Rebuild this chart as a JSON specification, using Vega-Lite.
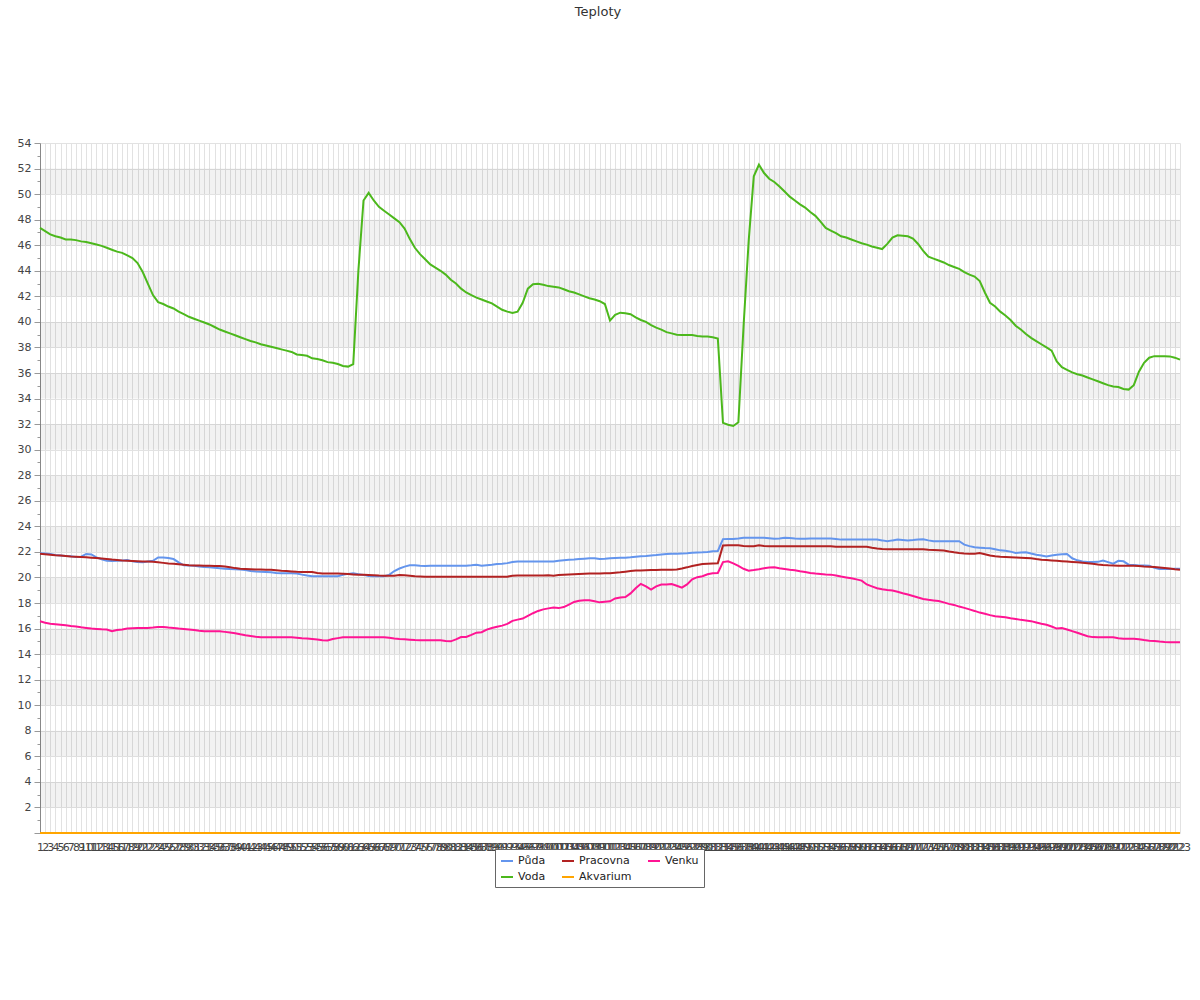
{
  "$schema": "https://vega.github.io/schema/vega-lite/v6.json",
  "autosize": {"type": "none"},
  "width": 1140,
  "height": 690,
  "padding": {"left": 40, "top": 143, "right": 20, "bottom": 167},
  "background": "white",
  "config": {"font": "DejaVu Sans", "view": {"stroke": null}},
  "title": {"text": "Teploty", "offset": 118, "fontSize": 13, "fontWeight": "normal", "color": "#333", "font": "DejaVu Sans", "dx": -12},
  "layer": [
    {
      "data": {"values": [
        {"a": 2, "b": 4}, {"a": 6, "b": 8}, {"a": 10, "b": 12}, {"a": 14, "b": 16}, {"a": 18, "b": 20},
        {"a": 22, "b": 24}, {"a": 26, "b": 28}, {"a": 30, "b": 32}, {"a": 34, "b": 36}, {"a": 38, "b": 40},
        {"a": 42, "b": 44}, {"a": 46, "b": 48}, {"a": 50, "b": 52}
      ]},
      "mark": {"type": "rect", "fill": "#000", "fillOpacity": 0.05},
      "encoding": {
        "y": {"field": "a", "type": "quantitative", "scale": {"domain": [0, 54], "nice": false},
          "axis": {
            "title": null,
            "values": [0,1,2,3,4,5,6,7,8,9,10,11,12,13,14,15,16,17,18,19,20,21,22,23,24,25,26,27,28,29,30,31,32,33,34,35,36,37,38,39,40,41,42,43,44,45,46,47,48,49,50,51,52,53,54],
            "labelExpr": "datum.value % 2 === 0 && datum.value > 0 ? datum.label : ''",
            "labelOverlap": false,
            "gridOpacity": {"condition": {"test": "datum.value % 2 !== 0", "value": 0}, "value": 1},
            "tickSize": {"condition": {"test": "datum.value % 2 !== 0", "value": 3}, "value": 6},
            "gridColor": "#e2e2e2",
            "domainColor": "#888",
            "tickColor": "#999",
            "labelFontSize": 11,
            "labelColor": "#444",
            "labelFont": "DejaVu Sans",
            "labelPadding": 3
          }},
        "y2": {"field": "b"}
      }
    },
    {
      "data": {"values": [
{"n":1,"Půda":21.9,"Pracovna":21.86,"Venku":16.57,"Voda":47.35,"Akvarium":0},
{"n":2,"Půda":21.88,"Pracovna":21.82,"Venku":16.45,"Voda":47.1,"Akvarium":0},
{"n":3,"Půda":21.83,"Pracovna":21.78,"Venku":16.38,"Voda":46.85,"Akvarium":0},
{"n":4,"Půda":21.76,"Pracovna":21.74,"Venku":16.34,"Voda":46.7,"Akvarium":0},
{"n":5,"Půda":21.72,"Pracovna":21.72,"Venku":16.3,"Voda":46.6,"Akvarium":0},
{"n":6,"Půda":21.68,"Pracovna":21.68,"Venku":16.25,"Voda":46.45,"Akvarium":0},
{"n":7,"Půda":21.65,"Pracovna":21.64,"Venku":16.2,"Voda":46.45,"Akvarium":0},
{"n":8,"Půda":21.6,"Pracovna":21.62,"Venku":16.16,"Voda":46.4,"Akvarium":0},
{"n":9,"Půda":21.62,"Pracovna":21.6,"Venku":16.1,"Voda":46.3,"Akvarium":0},
{"n":10,"Půda":21.84,"Pracovna":21.58,"Venku":16.05,"Voda":46.25,"Akvarium":0},
{"n":11,"Půda":21.8,"Pracovna":21.55,"Venku":16.0,"Voda":46.15,"Akvarium":0},
{"n":12,"Půda":21.57,"Pracovna":21.52,"Venku":15.97,"Voda":46.05,"Akvarium":0},
{"n":13,"Půda":21.42,"Pracovna":21.48,"Venku":15.94,"Voda":45.95,"Akvarium":0},
{"n":14,"Půda":21.3,"Pracovna":21.44,"Venku":15.92,"Voda":45.8,"Akvarium":0},
{"n":15,"Půda":21.28,"Pracovna":21.4,"Venku":15.8,"Voda":45.65,"Akvarium":0},
{"n":16,"Půda":21.3,"Pracovna":21.37,"Venku":15.88,"Voda":45.5,"Akvarium":0},
{"n":17,"Půda":21.33,"Pracovna":21.33,"Venku":15.93,"Voda":45.4,"Akvarium":0},
{"n":18,"Půda":21.37,"Pracovna":21.31,"Venku":16.0,"Voda":45.2,"Akvarium":0},
{"n":19,"Půda":21.26,"Pracovna":21.29,"Venku":16.02,"Voda":45.0,"Akvarium":0},
{"n":20,"Půda":21.2,"Pracovna":21.27,"Venku":16.04,"Voda":44.6,"Akvarium":0},
{"n":21,"Půda":21.18,"Pracovna":21.25,"Venku":16.05,"Voda":43.9,"Akvarium":0},
{"n":22,"Půda":21.25,"Pracovna":21.24,"Venku":16.05,"Voda":43.0,"Akvarium":0},
{"n":23,"Půda":21.3,"Pracovna":21.22,"Venku":16.08,"Voda":42.1,"Akvarium":0},
{"n":24,"Půda":21.57,"Pracovna":21.18,"Venku":16.12,"Voda":41.55,"Akvarium":0},
{"n":25,"Půda":21.57,"Pracovna":21.14,"Venku":16.12,"Voda":41.4,"Akvarium":0},
{"n":26,"Půda":21.52,"Pracovna":21.1,"Venku":16.08,"Voda":41.2,"Akvarium":0},
{"n":27,"Půda":21.44,"Pracovna":21.07,"Venku":16.05,"Voda":41.05,"Akvarium":0},
{"n":28,"Půda":21.18,"Pracovna":21.03,"Venku":16.0,"Voda":40.8,"Akvarium":0},
{"n":29,"Půda":20.95,"Pracovna":20.99,"Venku":15.97,"Voda":40.6,"Akvarium":0},
{"n":30,"Půda":20.93,"Pracovna":20.95,"Venku":15.93,"Voda":40.4,"Akvarium":0},
{"n":31,"Půda":20.92,"Pracovna":20.94,"Venku":15.88,"Voda":40.25,"Akvarium":0},
{"n":32,"Půda":20.86,"Pracovna":20.93,"Venku":15.83,"Voda":40.1,"Akvarium":0},
{"n":33,"Půda":20.82,"Pracovna":20.92,"Venku":15.79,"Voda":39.95,"Akvarium":0},
{"n":34,"Půda":20.79,"Pracovna":20.91,"Venku":15.79,"Voda":39.8,"Akvarium":0},
{"n":35,"Půda":20.75,"Pracovna":20.9,"Venku":15.79,"Voda":39.6,"Akvarium":0},
{"n":36,"Půda":20.72,"Pracovna":20.9,"Venku":15.79,"Voda":39.4,"Akvarium":0},
{"n":37,"Půda":20.69,"Pracovna":20.85,"Venku":15.74,"Voda":39.25,"Akvarium":0},
{"n":38,"Půda":20.66,"Pracovna":20.79,"Venku":15.69,"Voda":39.1,"Akvarium":0},
{"n":39,"Půda":20.64,"Pracovna":20.73,"Venku":15.64,"Voda":38.95,"Akvarium":0},
{"n":40,"Půda":20.62,"Pracovna":20.69,"Venku":15.55,"Voda":38.8,"Akvarium":0},
{"n":41,"Půda":20.58,"Pracovna":20.67,"Venku":15.48,"Voda":38.65,"Akvarium":0},
{"n":42,"Půda":20.5,"Pracovna":20.65,"Venku":15.42,"Voda":38.5,"Akvarium":0},
{"n":43,"Půda":20.47,"Pracovna":20.63,"Venku":15.36,"Voda":38.4,"Akvarium":0},
{"n":44,"Půda":20.45,"Pracovna":20.62,"Venku":15.32,"Voda":38.25,"Akvarium":0},
{"n":45,"Půda":20.43,"Pracovna":20.61,"Venku":15.32,"Voda":38.15,"Akvarium":0},
{"n":46,"Půda":20.4,"Pracovna":20.6,"Venku":15.32,"Voda":38.05,"Akvarium":0},
{"n":47,"Půda":20.35,"Pracovna":20.57,"Venku":15.32,"Voda":37.95,"Akvarium":0},
{"n":48,"Půda":20.32,"Pracovna":20.53,"Venku":15.32,"Voda":37.85,"Akvarium":0},
{"n":49,"Půda":20.32,"Pracovna":20.5,"Venku":15.32,"Voda":37.75,"Akvarium":0},
{"n":50,"Půda":20.32,"Pracovna":20.47,"Venku":15.32,"Voda":37.65,"Akvarium":0},
{"n":51,"Půda":20.3,"Pracovna":20.44,"Venku":15.28,"Voda":37.45,"Akvarium":0},
{"n":52,"Půda":20.22,"Pracovna":20.43,"Venku":15.24,"Voda":37.4,"Akvarium":0},
{"n":53,"Půda":20.15,"Pracovna":20.43,"Venku":15.22,"Voda":37.35,"Akvarium":0},
{"n":54,"Půda":20.1,"Pracovna":20.43,"Venku":15.19,"Voda":37.15,"Akvarium":0},
{"n":55,"Půda":20.09,"Pracovna":20.35,"Venku":15.14,"Voda":37.1,"Akvarium":0},
{"n":56,"Půda":20.09,"Pracovna":20.3,"Venku":15.09,"Voda":37.0,"Akvarium":0},
{"n":57,"Půda":20.09,"Pracovna":20.3,"Venku":15.06,"Voda":36.85,"Akvarium":0},
{"n":58,"Půda":20.09,"Pracovna":20.3,"Venku":15.18,"Voda":36.8,"Akvarium":0},
{"n":59,"Půda":20.1,"Pracovna":20.3,"Venku":15.25,"Voda":36.7,"Akvarium":0},
{"n":60,"Půda":20.2,"Pracovna":20.28,"Venku":15.32,"Voda":36.55,"Akvarium":0},
{"n":61,"Půda":20.28,"Pracovna":20.26,"Venku":15.32,"Voda":36.5,"Akvarium":0},
{"n":62,"Půda":20.32,"Pracovna":20.24,"Venku":15.32,"Voda":36.7,"Akvarium":0},
{"n":63,"Půda":20.26,"Pracovna":20.22,"Venku":15.32,"Voda":44.0,"Akvarium":0},
{"n":64,"Půda":20.2,"Pracovna":20.21,"Venku":15.32,"Voda":49.5,"Akvarium":0},
{"n":65,"Půda":20.12,"Pracovna":20.19,"Venku":15.32,"Voda":50.1,"Akvarium":0},
{"n":66,"Půda":20.09,"Pracovna":20.17,"Venku":15.32,"Voda":49.5,"Akvarium":0},
{"n":67,"Půda":20.09,"Pracovna":20.15,"Venku":15.32,"Voda":49.0,"Akvarium":0},
{"n":68,"Půda":20.09,"Pracovna":20.14,"Venku":15.32,"Voda":48.7,"Akvarium":0},
{"n":69,"Půda":20.2,"Pracovna":20.14,"Venku":15.28,"Voda":48.4,"Akvarium":0},
{"n":70,"Půda":20.5,"Pracovna":20.14,"Venku":15.23,"Voda":48.1,"Akvarium":0},
{"n":71,"Půda":20.7,"Pracovna":20.19,"Venku":15.19,"Voda":47.8,"Akvarium":0},
{"n":72,"Půda":20.85,"Pracovna":20.17,"Venku":15.16,"Voda":47.3,"Akvarium":0},
{"n":73,"Půda":20.95,"Pracovna":20.14,"Venku":15.13,"Voda":46.5,"Akvarium":0},
{"n":74,"Půda":20.95,"Pracovna":20.1,"Venku":15.1,"Voda":45.8,"Akvarium":0},
{"n":75,"Půda":20.92,"Pracovna":20.08,"Venku":15.08,"Voda":45.3,"Akvarium":0},
{"n":76,"Půda":20.9,"Pracovna":20.06,"Venku":15.08,"Voda":44.9,"Akvarium":0},
{"n":77,"Půda":20.92,"Pracovna":20.06,"Venku":15.08,"Voda":44.5,"Akvarium":0},
{"n":78,"Půda":20.92,"Pracovna":20.06,"Venku":15.08,"Voda":44.25,"Akvarium":0},
{"n":79,"Půda":20.92,"Pracovna":20.06,"Venku":15.08,"Voda":44.0,"Akvarium":0},
{"n":80,"Půda":20.92,"Pracovna":20.06,"Venku":15.03,"Voda":43.7,"Akvarium":0},
{"n":81,"Půda":20.92,"Pracovna":20.06,"Venku":15.0,"Voda":43.3,"Akvarium":0},
{"n":82,"Půda":20.92,"Pracovna":20.06,"Venku":15.15,"Voda":43.0,"Akvarium":0},
{"n":83,"Půda":20.92,"Pracovna":20.06,"Venku":15.34,"Voda":42.6,"Akvarium":0},
{"n":84,"Půda":20.92,"Pracovna":20.06,"Venku":15.34,"Voda":42.3,"Akvarium":0},
{"n":85,"Půda":20.95,"Pracovna":20.06,"Venku":15.5,"Voda":42.1,"Akvarium":0},
{"n":86,"Půda":21.0,"Pracovna":20.06,"Venku":15.68,"Voda":41.9,"Akvarium":0},
{"n":87,"Půda":20.92,"Pracovna":20.06,"Venku":15.71,"Voda":41.75,"Akvarium":0},
{"n":88,"Půda":20.96,"Pracovna":20.06,"Venku":15.92,"Voda":41.6,"Akvarium":0},
{"n":89,"Půda":21.0,"Pracovna":20.06,"Venku":16.04,"Voda":41.45,"Akvarium":0},
{"n":90,"Půda":21.05,"Pracovna":20.06,"Venku":16.14,"Voda":41.2,"Akvarium":0},
{"n":91,"Půda":21.08,"Pracovna":20.06,"Venku":16.23,"Voda":40.95,"Akvarium":0},
{"n":92,"Půda":21.12,"Pracovna":20.06,"Venku":16.36,"Voda":40.8,"Akvarium":0},
{"n":93,"Půda":21.2,"Pracovna":20.14,"Venku":16.6,"Voda":40.7,"Akvarium":0},
{"n":94,"Půda":21.24,"Pracovna":20.16,"Venku":16.7,"Voda":40.8,"Akvarium":0},
{"n":95,"Půda":21.24,"Pracovna":20.16,"Venku":16.78,"Voda":41.5,"Akvarium":0},
{"n":96,"Půda":21.24,"Pracovna":20.16,"Venku":17.0,"Voda":42.6,"Akvarium":0},
{"n":97,"Půda":21.24,"Pracovna":20.16,"Venku":17.2,"Voda":42.95,"Akvarium":0},
{"n":98,"Půda":21.24,"Pracovna":20.16,"Venku":17.38,"Voda":42.98,"Akvarium":0},
{"n":99,"Půda":21.24,"Pracovna":20.16,"Venku":17.5,"Voda":42.9,"Akvarium":0},
{"n":100,"Půda":21.24,"Pracovna":20.17,"Venku":17.58,"Voda":42.8,"Akvarium":0},
{"n":101,"Půda":21.24,"Pracovna":20.14,"Venku":17.65,"Voda":42.75,"Akvarium":0},
{"n":102,"Půda":21.3,"Pracovna":20.19,"Venku":17.6,"Voda":42.7,"Akvarium":0},
{"n":103,"Půda":21.35,"Pracovna":20.21,"Venku":17.68,"Voda":42.55,"Akvarium":0},
{"n":104,"Půda":21.38,"Pracovna":20.23,"Venku":17.88,"Voda":42.4,"Akvarium":0},
{"n":105,"Půda":21.4,"Pracovna":20.25,"Venku":18.08,"Voda":42.3,"Akvarium":0},
{"n":106,"Půda":21.44,"Pracovna":20.27,"Venku":18.18,"Voda":42.15,"Akvarium":0},
{"n":107,"Půda":21.47,"Pracovna":20.29,"Venku":18.21,"Voda":42.0,"Akvarium":0},
{"n":108,"Půda":21.5,"Pracovna":20.3,"Venku":18.21,"Voda":41.85,"Akvarium":0},
{"n":109,"Půda":21.5,"Pracovna":20.31,"Venku":18.13,"Voda":41.75,"Akvarium":0},
{"n":110,"Půda":21.44,"Pracovna":20.31,"Venku":18.05,"Voda":41.62,"Akvarium":0},
{"n":111,"Půda":21.46,"Pracovna":20.32,"Venku":18.1,"Voda":41.4,"Akvarium":0},
{"n":112,"Půda":21.5,"Pracovna":20.32,"Venku":18.13,"Voda":40.1,"Akvarium":0},
{"n":113,"Půda":21.52,"Pracovna":20.36,"Venku":18.36,"Voda":40.55,"Akvarium":0},
{"n":114,"Půda":21.54,"Pracovna":20.4,"Venku":18.43,"Voda":40.72,"Akvarium":0},
{"n":115,"Půda":21.55,"Pracovna":20.45,"Venku":18.47,"Voda":40.68,"Akvarium":0},
{"n":116,"Půda":21.58,"Pracovna":20.5,"Venku":18.75,"Voda":40.6,"Akvarium":0},
{"n":117,"Půda":21.62,"Pracovna":20.54,"Venku":19.15,"Voda":40.35,"Akvarium":0},
{"n":118,"Půda":21.65,"Pracovna":20.55,"Venku":19.5,"Voda":40.15,"Akvarium":0},
{"n":119,"Půda":21.68,"Pracovna":20.57,"Venku":19.3,"Voda":40.0,"Akvarium":0},
{"n":120,"Půda":21.72,"Pracovna":20.58,"Venku":19.05,"Voda":39.75,"Akvarium":0},
{"n":121,"Půda":21.75,"Pracovna":20.59,"Venku":19.3,"Voda":39.55,"Akvarium":0},
{"n":122,"Půda":21.8,"Pracovna":20.6,"Venku":19.44,"Voda":39.4,"Akvarium":0},
{"n":123,"Půda":21.84,"Pracovna":20.6,"Venku":19.44,"Voda":39.2,"Akvarium":0},
{"n":124,"Půda":21.85,"Pracovna":20.61,"Venku":19.48,"Voda":39.1,"Akvarium":0},
{"n":125,"Půda":21.86,"Pracovna":20.62,"Venku":19.35,"Voda":39.0,"Akvarium":0},
{"n":126,"Půda":21.88,"Pracovna":20.7,"Venku":19.2,"Voda":38.98,"Akvarium":0},
{"n":127,"Půda":21.9,"Pracovna":20.79,"Venku":19.45,"Voda":38.98,"Akvarium":0},
{"n":128,"Půda":21.93,"Pracovna":20.9,"Venku":19.85,"Voda":38.98,"Akvarium":0},
{"n":129,"Půda":21.95,"Pracovna":20.98,"Venku":20.02,"Voda":38.9,"Akvarium":0},
{"n":130,"Půda":21.97,"Pracovna":21.05,"Venku":20.09,"Voda":38.85,"Akvarium":0},
{"n":131,"Půda":22.0,"Pracovna":21.07,"Venku":20.25,"Voda":38.85,"Akvarium":0},
{"n":132,"Půda":22.05,"Pracovna":21.09,"Venku":20.32,"Voda":38.8,"Akvarium":0},
{"n":133,"Půda":22.07,"Pracovna":21.1,"Venku":20.35,"Voda":38.7,"Akvarium":0},
{"n":134,"Půda":23.0,"Pracovna":22.5,"Venku":21.2,"Voda":32.1,"Akvarium":0},
{"n":135,"Půda":23.01,"Pracovna":22.51,"Venku":21.26,"Voda":31.95,"Akvarium":0},
{"n":136,"Půda":23.01,"Pracovna":22.51,"Venku":21.1,"Voda":31.85,"Akvarium":0},
{"n":137,"Půda":23.05,"Pracovna":22.51,"Venku":20.9,"Voda":32.15,"Akvarium":0},
{"n":138,"Půda":23.1,"Pracovna":22.47,"Venku":20.68,"Voda":39.6,"Akvarium":0},
{"n":139,"Půda":23.11,"Pracovna":22.44,"Venku":20.53,"Voda":46.3,"Akvarium":0},
{"n":140,"Půda":23.11,"Pracovna":22.45,"Venku":20.58,"Voda":51.4,"Akvarium":0},
{"n":141,"Půda":23.11,"Pracovna":22.51,"Venku":20.64,"Voda":52.3,"Akvarium":0},
{"n":142,"Půda":23.11,"Pracovna":22.46,"Venku":20.72,"Voda":51.65,"Akvarium":0},
{"n":143,"Půda":23.07,"Pracovna":22.44,"Venku":20.78,"Voda":51.2,"Akvarium":0},
{"n":144,"Půda":23.02,"Pracovna":22.44,"Venku":20.8,"Voda":50.95,"Akvarium":0},
{"n":145,"Půda":23.05,"Pracovna":22.44,"Venku":20.72,"Voda":50.6,"Akvarium":0},
{"n":146,"Půda":23.1,"Pracovna":22.44,"Venku":20.66,"Voda":50.2,"Akvarium":0},
{"n":147,"Půda":23.08,"Pracovna":22.44,"Venku":20.6,"Voda":49.8,"Akvarium":0},
{"n":148,"Půda":23.04,"Pracovna":22.44,"Venku":20.56,"Voda":49.5,"Akvarium":0},
{"n":149,"Půda":23.02,"Pracovna":22.44,"Venku":20.48,"Voda":49.2,"Akvarium":0},
{"n":150,"Půda":23.03,"Pracovna":22.44,"Venku":20.42,"Voda":48.95,"Akvarium":0},
{"n":151,"Půda":23.04,"Pracovna":22.44,"Venku":20.35,"Voda":48.6,"Akvarium":0},
{"n":152,"Půda":23.04,"Pracovna":22.44,"Venku":20.3,"Voda":48.3,"Akvarium":0},
{"n":153,"Půda":23.04,"Pracovna":22.44,"Venku":20.27,"Voda":47.85,"Akvarium":0},
{"n":154,"Půda":23.04,"Pracovna":22.44,"Venku":20.24,"Voda":47.35,"Akvarium":0},
{"n":155,"Půda":23.04,"Pracovna":22.44,"Venku":20.22,"Voda":47.15,"Akvarium":0},
{"n":156,"Půda":23.0,"Pracovna":22.4,"Venku":20.15,"Voda":46.95,"Akvarium":0},
{"n":157,"Půda":22.96,"Pracovna":22.4,"Venku":20.07,"Voda":46.7,"Akvarium":0},
{"n":158,"Půda":22.96,"Pracovna":22.4,"Venku":20.0,"Voda":46.6,"Akvarium":0},
{"n":159,"Půda":22.96,"Pracovna":22.4,"Venku":19.93,"Voda":46.45,"Akvarium":0},
{"n":160,"Půda":22.96,"Pracovna":22.4,"Venku":19.85,"Voda":46.3,"Akvarium":0},
{"n":161,"Půda":22.96,"Pracovna":22.4,"Venku":19.75,"Voda":46.15,"Akvarium":0},
{"n":162,"Půda":22.96,"Pracovna":22.4,"Venku":19.45,"Voda":46.05,"Akvarium":0},
{"n":163,"Půda":22.96,"Pracovna":22.33,"Venku":19.3,"Voda":45.9,"Akvarium":0},
{"n":164,"Půda":22.96,"Pracovna":22.27,"Venku":19.15,"Voda":45.8,"Akvarium":0},
{"n":165,"Půda":22.9,"Pracovna":22.23,"Venku":19.08,"Voda":45.7,"Akvarium":0},
{"n":166,"Půda":22.83,"Pracovna":22.2,"Venku":19.02,"Voda":46.1,"Akvarium":0},
{"n":167,"Půda":22.9,"Pracovna":22.2,"Venku":18.98,"Voda":46.6,"Akvarium":0},
{"n":168,"Půda":22.96,"Pracovna":22.2,"Venku":18.88,"Voda":46.78,"Akvarium":0},
{"n":169,"Půda":22.93,"Pracovna":22.2,"Venku":18.76,"Voda":46.75,"Akvarium":0},
{"n":170,"Půda":22.9,"Pracovna":22.2,"Venku":18.66,"Voda":46.7,"Akvarium":0},
{"n":171,"Půda":22.93,"Pracovna":22.2,"Venku":18.55,"Voda":46.52,"Akvarium":0},
{"n":172,"Půda":22.97,"Pracovna":22.2,"Venku":18.43,"Voda":46.1,"Akvarium":0},
{"n":173,"Půda":22.98,"Pracovna":22.2,"Venku":18.32,"Voda":45.55,"Akvarium":0},
{"n":174,"Půda":22.9,"Pracovna":22.17,"Venku":18.25,"Voda":45.1,"Akvarium":0},
{"n":175,"Půda":22.83,"Pracovna":22.15,"Venku":18.2,"Voda":44.95,"Akvarium":0},
{"n":176,"Půda":22.83,"Pracovna":22.13,"Venku":18.15,"Voda":44.8,"Akvarium":0},
{"n":177,"Půda":22.83,"Pracovna":22.1,"Venku":18.05,"Voda":44.65,"Akvarium":0},
{"n":178,"Půda":22.83,"Pracovna":22.03,"Venku":17.93,"Voda":44.45,"Akvarium":0},
{"n":179,"Půda":22.83,"Pracovna":21.97,"Venku":17.85,"Voda":44.3,"Akvarium":0},
{"n":180,"Půda":22.83,"Pracovna":21.92,"Venku":17.72,"Voda":44.15,"Akvarium":0},
{"n":181,"Půda":22.57,"Pracovna":21.88,"Venku":17.62,"Voda":43.9,"Akvarium":0},
{"n":182,"Půda":22.45,"Pracovna":21.85,"Venku":17.5,"Voda":43.7,"Akvarium":0},
{"n":183,"Půda":22.36,"Pracovna":21.86,"Venku":17.38,"Voda":43.55,"Akvarium":0},
{"n":184,"Půda":22.33,"Pracovna":21.91,"Venku":17.25,"Voda":43.2,"Akvarium":0},
{"n":185,"Půda":22.3,"Pracovna":21.82,"Venku":17.16,"Voda":42.3,"Akvarium":0},
{"n":186,"Půda":22.28,"Pracovna":21.72,"Venku":17.05,"Voda":41.5,"Akvarium":0},
{"n":187,"Půda":22.2,"Pracovna":21.66,"Venku":16.97,"Voda":41.2,"Akvarium":0},
{"n":188,"Půda":22.12,"Pracovna":21.62,"Venku":16.93,"Voda":40.8,"Akvarium":0},
{"n":189,"Půda":22.08,"Pracovna":21.6,"Venku":16.88,"Voda":40.5,"Akvarium":0},
{"n":190,"Půda":22.02,"Pracovna":21.58,"Venku":16.8,"Voda":40.15,"Akvarium":0},
{"n":191,"Půda":21.92,"Pracovna":21.56,"Venku":16.75,"Voda":39.7,"Akvarium":0},
{"n":192,"Půda":21.95,"Pracovna":21.55,"Venku":16.68,"Voda":39.4,"Akvarium":0},
{"n":193,"Půda":21.97,"Pracovna":21.53,"Venku":16.63,"Voda":39.05,"Akvarium":0},
{"n":194,"Půda":21.88,"Pracovna":21.5,"Venku":16.58,"Voda":38.75,"Akvarium":0},
{"n":195,"Půda":21.78,"Pracovna":21.44,"Venku":16.48,"Voda":38.5,"Akvarium":0},
{"n":196,"Půda":21.72,"Pracovna":21.39,"Venku":16.38,"Voda":38.25,"Akvarium":0},
{"n":197,"Půda":21.65,"Pracovna":21.36,"Venku":16.3,"Voda":38.0,"Akvarium":0},
{"n":198,"Půda":21.72,"Pracovna":21.33,"Venku":16.16,"Voda":37.75,"Akvarium":0},
{"n":199,"Půda":21.78,"Pracovna":21.3,"Venku":16.0,"Voda":36.9,"Akvarium":0},
{"n":200,"Půda":21.82,"Pracovna":21.27,"Venku":16.05,"Voda":36.45,"Akvarium":0},
{"n":201,"Půda":21.84,"Pracovna":21.24,"Venku":15.93,"Voda":36.25,"Akvarium":0},
{"n":202,"Půda":21.5,"Pracovna":21.21,"Venku":15.8,"Voda":36.05,"Akvarium":0},
{"n":203,"Půda":21.34,"Pracovna":21.18,"Venku":15.67,"Voda":35.9,"Akvarium":0},
{"n":204,"Půda":21.25,"Pracovna":21.15,"Venku":15.53,"Voda":35.8,"Akvarium":0},
{"n":205,"Půda":21.21,"Pracovna":21.12,"Venku":15.4,"Voda":35.65,"Akvarium":0},
{"n":206,"Půda":21.21,"Pracovna":21.07,"Venku":15.33,"Voda":35.5,"Akvarium":0},
{"n":207,"Půda":21.22,"Pracovna":21.02,"Venku":15.32,"Voda":35.35,"Akvarium":0},
{"n":208,"Půda":21.32,"Pracovna":20.98,"Venku":15.32,"Voda":35.2,"Akvarium":0},
{"n":209,"Půda":21.2,"Pracovna":20.95,"Venku":15.32,"Voda":35.05,"Akvarium":0},
{"n":210,"Půda":21.08,"Pracovna":20.94,"Venku":15.32,"Voda":34.95,"Akvarium":0},
{"n":211,"Půda":21.3,"Pracovna":20.92,"Venku":15.25,"Voda":34.9,"Akvarium":0},
{"n":212,"Půda":21.26,"Pracovna":20.92,"Venku":15.21,"Voda":34.75,"Akvarium":0},
{"n":213,"Půda":21.0,"Pracovna":20.92,"Venku":15.21,"Voda":34.7,"Akvarium":0},
{"n":214,"Půda":20.97,"Pracovna":20.92,"Venku":15.21,"Voda":35.05,"Akvarium":0},
{"n":215,"Půda":20.94,"Pracovna":20.89,"Venku":15.16,"Voda":36.1,"Akvarium":0},
{"n":216,"Půda":20.93,"Pracovna":20.86,"Venku":15.1,"Voda":36.8,"Akvarium":0},
{"n":217,"Půda":20.92,"Pracovna":20.84,"Venku":15.05,"Voda":37.2,"Akvarium":0},
{"n":218,"Půda":20.75,"Pracovna":20.82,"Venku":15.02,"Voda":37.32,"Akvarium":0},
{"n":219,"Půda":20.66,"Pracovna":20.78,"Venku":14.98,"Voda":37.32,"Akvarium":0},
{"n":220,"Půda":20.66,"Pracovna":20.74,"Venku":14.95,"Voda":37.32,"Akvarium":0},
{"n":221,"Půda":20.67,"Pracovna":20.7,"Venku":14.93,"Voda":37.3,"Akvarium":0},
{"n":222,"Půda":20.68,"Pracovna":20.65,"Venku":14.93,"Voda":37.2,"Akvarium":0},
{"n":223,"Půda":20.69,"Pracovna":20.61,"Venku":14.93,"Voda":37.05,"Akvarium":0}
      ]},
      "transform": [{"fold": ["Půda", "Pracovna", "Venku", "Voda", "Akvarium"], "as": ["serie", "t"]}],
      "mark": {"type": "line", "strokeWidth": 2, "interpolate": "linear"},
      "encoding": {
        "x": {
          "field": "n", "type": "ordinal",
          "scale": {"type": "point", "padding": 0},
          "axis": {"title": null, "labelAngle": 0, "labelOverlap": false, "labelFontSize": 11, "labelColor": "#444", "labelFont": "DejaVu Sans", "ticks": false, "domain": false, "grid": true, "gridColor": "#e2e2e2", "labelPadding": 8, "labelBound": false}
        },
        "y": {
          "field": "t", "type": "quantitative",
          "scale": {"domain": [0, 54], "nice": false},
          "axis": {
            "title": null,
            "values": [0,1,2,3,4,5,6,7,8,9,10,11,12,13,14,15,16,17,18,19,20,21,22,23,24,25,26,27,28,29,30,31,32,33,34,35,36,37,38,39,40,41,42,43,44,45,46,47,48,49,50,51,52,53,54],
            "labelExpr": "datum.value % 2 === 0 && datum.value > 0 ? datum.label : ''",
            "labelOverlap": false,
            "gridOpacity": {"condition": {"test": "datum.value % 2 !== 0", "value": 0}, "value": 1},
            "tickSize": {"condition": {"test": "datum.value % 2 !== 0", "value": 3}, "value": 6},
            "gridColor": "#e2e2e2",
            "domainColor": "#888",
            "tickColor": "#999",
            "labelFontSize": 11,
            "labelColor": "#444",
            "labelFont": "DejaVu Sans",
            "labelPadding": 3
          }
        },
        "color": {
          "field": "serie", "type": "nominal",
          "scale": {"domain": ["Půda", "Pracovna", "Venku", "Voda", "Akvarium"], "range": ["#6495ED", "#B22222", "#FF1493", "#4CB81C", "#FFA500"]},
          "legend": {"orient": "none", "direction": "horizontal", "legendX": 455, "legendY": 706, "columns": 3, "title": null, "symbolType": "stroke", "symbolStrokeWidth": 2, "symbolSize": 144, "labelFontSize": 11, "labelFont": "DejaVu Sans", "labelColor": "#222", "strokeColor": "#666", "fillColor": "#fff", "padding": 5, "rowPadding": 4, "columnPadding": 12}
        }
      }
    }
  ]
}
